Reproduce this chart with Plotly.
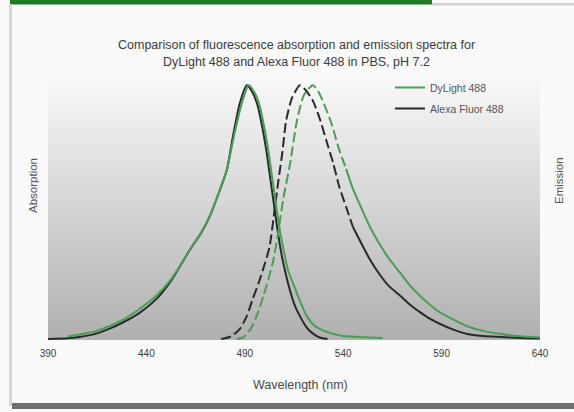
import plotly.graph_objects as go

# ---- data ----
ticks_x = [390, 440, 490, 540, 590, 640]

alexa_abs_wl = [390, 400, 406, 414, 421, 428, 436, 445, 453, 462, 468, 472, 477, 481, 484, 487.5, 491,
                494, 496.5, 499, 501, 503, 505, 507, 509, 511, 513, 515.5, 518, 521, 524, 528, 532]
alexa_abs = [0, 0.003, 0.008, 0.02, 0.04, 0.065, 0.10, 0.157, 0.235, 0.35, 0.42, 0.48, 0.58, 0.67, 0.80, 0.93, 1.0,
             0.97, 0.92, 0.83, 0.74, 0.63, 0.52, 0.41, 0.32, 0.25, 0.19, 0.13, 0.09, 0.05, 0.025, 0.006, 0]

dylight_abs_wl = [400, 406, 414, 421, 428, 436, 445, 453, 462, 468, 472, 477, 481, 484.5, 488.5, 492,
                  495, 497.5, 500, 502, 504, 506, 508, 510, 512, 515.5, 518, 521.5, 525, 528, 534, 540, 550, 560]
dylight_abs = [0.01, 0.018, 0.03, 0.05, 0.075, 0.115, 0.17, 0.24, 0.35, 0.42, 0.48, 0.58, 0.67, 0.80, 0.93, 1.0,
               0.97, 0.92, 0.83, 0.74, 0.63, 0.52, 0.42, 0.34, 0.27, 0.20, 0.15, 0.09, 0.055, 0.04, 0.022, 0.012, 0.007, 0.004]

alexa_em_wl = [478, 483, 487.5, 491, 494, 497, 499.5, 502.5, 505, 507, 509, 511, 514, 518, 521, 524.5, 528,
               531.5, 535, 538, 541.5, 545, 549, 553.5, 558, 563, 569, 574, 579, 584, 589, 595, 603, 611, 620, 630, 640]
alexa_em = [0, 0.01, 0.04, 0.09, 0.157, 0.22, 0.28, 0.36, 0.5, 0.62, 0.73, 0.86, 0.95, 1.0, 0.98, 0.94, 0.87,
            0.78, 0.69, 0.60, 0.52, 0.44, 0.38, 0.314, 0.26, 0.21, 0.17, 0.135, 0.106, 0.08, 0.06, 0.04, 0.02, 0.012, 0.008, 0.004, 0.002]

dylight_em_wl = [486, 489, 493, 496, 499.5, 502.5, 504.5, 507, 509.5, 513, 516.5, 520, 524.5, 527, 529.5, 534, 538,
                 541.5, 545, 549, 553.5, 558, 563.5, 569, 574, 579, 584, 589, 595, 603, 611, 620, 630, 640]
dylight_em = [0, 0.005, 0.04, 0.09, 0.17, 0.25, 0.31, 0.42, 0.55, 0.69, 0.86, 0.96, 1.0, 0.98, 0.94, 0.85, 0.745,
              0.67, 0.59, 0.52, 0.443, 0.38, 0.314, 0.26, 0.21, 0.17, 0.135, 0.106, 0.08, 0.05, 0.032, 0.02, 0.011, 0.006]

# wavelength where the dashed emission line turns solid
alexa_em_split = 545
dylight_em_split = 541.5

GREEN = "#4a9e52"
BLACK = "#262a2a"
FONT = "Liberation Sans, Arial, sans-serif"

W, H = 574, 412
L, R, T, B = 48, 540, 75, 340   # plot area in pixels


def px(xp):
    return (xp - L) / (R - L)


def py(yp):
    return (B - yp) / (B - T)


fig = go.Figure()


def split(wl, v, s):
    a = [(w, y) for w, y in zip(wl, v) if w <= s]
    b = [(w, y) for w, y in zip(wl, v) if w >= s]
    return ([p[0] for p in a], [p[1] for p in a]), ([p[0] for p in b], [p[1] for p in b])


for name, col, rank, awl, av, ewl, ev, s in [
    ("Alexa Fluor 488", BLACK, 2, alexa_abs_wl, alexa_abs, alexa_em_wl, alexa_em, alexa_em_split),
    ("DyLight 488", GREEN, 1, dylight_abs_wl, dylight_abs, dylight_em_wl, dylight_em, dylight_em_split),
]:
    fig.add_trace(go.Scatter(x=awl, y=av, mode="lines", name=name, legendgroup=name, legendrank=rank,
                             line=dict(color=col, width=2, shape="spline", smoothing=0.6)))
    (dx, dy), (sx, sy) = split(ewl, ev, s)
    fig.add_trace(go.Scatter(x=dx, y=dy, mode="lines", name=name, legendgroup=name, showlegend=False,
                             line=dict(color=col, width=2, dash="10px,4px", shape="spline", smoothing=0.6)))
    fig.add_trace(go.Scatter(x=sx, y=sy, mode="lines", name=name, legendgroup=name, showlegend=False,
                             line=dict(color=col, width=2, shape="spline", smoothing=0.6)))

# gradient background of the plot area (stacked, overlapping bands -> no seams)
shapes = []
N = 90
top_c, bot_c = 249, 176
for i in range(N):
    f = (i + 0.5) / N
    c = int(round(bot_c + (top_c - bot_c) * f))
    shapes.append(dict(type="rect", xref="x domain", yref="y domain", x0=0, x1=1,
                       y0=i / N, y1=1, line=dict(width=0),
                       fillcolor=f"rgb({c},{c},{c})", layer="below"))

# page frame decorations
shapes += [
    dict(type="rect", xref="paper", yref="paper", x0=px(10), x1=px(432), y0=py(0), y1=py(4.5),
         line=dict(width=0), fillcolor="#1f7a22", layer="above"),
    dict(type="rect", xref="paper", yref="paper", x0=px(432), x1=px(574), y0=py(3), y1=py(5.5),
         line=dict(width=0), fillcolor="#d4d4d4", layer="above"),
    dict(type="rect", xref="paper", yref="paper", x0=px(9), x1=px(12), y0=py(4), y1=py(406),
         line=dict(width=0), fillcolor="#d6d6d6", layer="above"),
    dict(type="rect", xref="paper", yref="paper", x0=px(12), x1=px(574), y0=py(403), y1=py(409),
         line=dict(width=0), fillcolor="#6e6e6e", layer="above"),
]


def ann(text, x, y, size, color, angle=0):
    return dict(text=text, x=px(x), y=py(y), xref="paper", yref="paper", showarrow=False,
                xanchor="center", yanchor="middle", textangle=angle,
                font=dict(size=size, color=color, family=FONT))


annotations = [
    ann("Comparison of fluorescence absorption and emission spectra for", 296, 45, 12.5, "#3c3c3c"),
    ann("DyLight 488 and Alexa Fluor 488 in PBS, pH 7.2", 296, 62, 12.5, "#3c3c3c"),
    ann("Wavelength (nm)", 300, 385, 12.5, "#4a4a4a"),
    ann("Absorption", 33, 186, 11.5, "#555555", -90),
    ann("Emission", 559, 181, 11.5, "#555555", -90),
]

fig.update_layout(
    width=W, height=H,
    margin=dict(l=L, r=W - R, t=T, b=H - B, pad=0),
    paper_bgcolor="#fafafa", plot_bgcolor="#ffffff",
    showlegend=True,
    legend=dict(x=px(390), y=py(73), xanchor="left", yanchor="top", bgcolor="rgba(0,0,0,0)",
                font=dict(size=10.5, color="#555555", family=FONT), tracegroupgap=2),
    shapes=shapes, annotations=annotations,
    xaxis=dict(range=[390, 640], tickvals=ticks_x, ticktext=[str(t) for t in ticks_x], showgrid=False,
               zeroline=False, showline=False, ticks="", ticklabelstandoff=6,
               tickfont=dict(size=10, color="#3c3c3c", family=FONT)),
    yaxis=dict(range=[-0.004, 1.04], showgrid=False, zeroline=False, showline=False, showticklabels=False,
               ticks=""),
)

fig.write_html("out.html", config={"displayModeBar": False},
               post_script="document.body.style.margin='0';document.body.style.overflow='hidden';")
